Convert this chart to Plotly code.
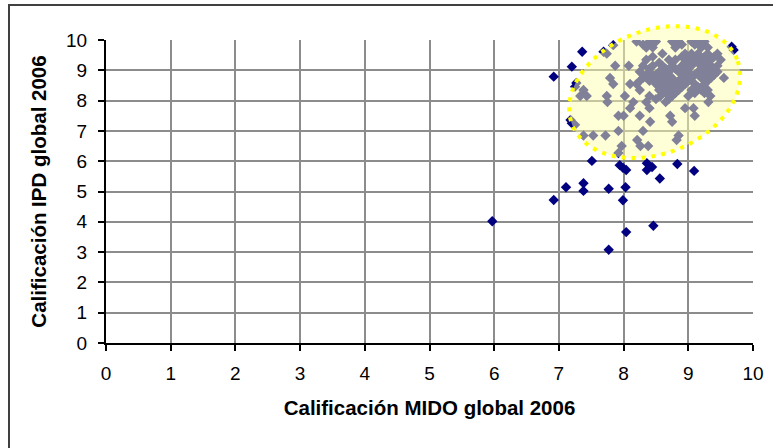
import numpy as np
import plotly.graph_objects as go

# ---- data ----
mido_outside = [5.97, 6.92, 7.11, 7.38, 7.38, 7.77, 7.77, 8.03, 7.99, 8.04, 8.46, 7.51,
                7.94, 8.04, 7.99, 8.36, 8.44, 8.36, 8.56, 8.83, 9.09,
                6.92, 7.36, 7.69, 7.84, 7.20, 7.27, 7.25, 7.18, 7.20, 9.67, 9.70]
ipd_outside = [4.02, 4.72, 5.14, 5.27, 5.02, 5.09, 3.08, 5.14, 4.71, 3.66, 3.87, 6.01,
               5.87, 5.71, 5.78, 5.93, 5.81, 5.71, 5.43, 5.91, 5.68,
               8.79, 9.61, 9.61, 9.83, 9.12, 8.58, 8.46, 7.36, 7.25, 9.78, 9.67]

rows_ipd = [9.95, 9.85, 9.75, 9.55, 9.45, 9.35, 9.25, 9.15, 9.05, 8.95, 8.85, 8.75,
            8.65, 8.55, 8.45, 8.35, 8.25, 8.15, 8.05,
            7.95, 7.75, 7.5, 7.3, 7.2, 7.0, 6.85, 6.7, 6.5, 6.27]
rows_mido = [
    [8.2, 8.4, 8.5, 8.75, 8.85, 9.05, 9.15, 9.25],
    [8.3, 8.9, 9.1],
    [8.35, 8.45, 8.8, 9.2, 9.3],
    [7.74, 8.6, 8.95, 9.05, 9.15, 9.3, 9.45],
    [8.45, 8.9, 9.25, 9.4],
    [8.35, 8.7, 8.8, 9.0, 9.1, 9.2, 9.35, 9.5],
    [8.55, 8.95, 9.15, 9.3],
    [7.87, 8.08, 8.3, 8.45, 8.6, 8.75, 8.9, 9.05, 9.2, 9.35, 9.45],
    [8.4, 8.65, 8.8, 8.95, 9.25, 9.4],
    [8.25, 8.4, 8.55, 8.7, 8.85, 9.0, 9.15, 9.3, 9.45],
    [8.35, 8.5, 8.65, 8.95, 9.1, 9.25, 9.4],
    [7.79, 8.3, 8.45, 8.6, 8.75, 8.9, 9.05, 9.2, 9.35, 9.55],
    [8.25, 8.4, 8.55, 8.7, 8.85, 9.0, 9.3],
    [7.84, 8.1, 8.2, 8.5, 8.65, 8.8, 8.95, 9.1, 9.25],
    [8.6, 8.75, 8.9, 9.15],
    [7.38, 8.25, 8.55, 8.7, 8.85, 9.05, 9.2, 9.3],
    [8.65, 8.8, 9.1, 9.25],
    [7.33, 7.43, 7.74, 8.02, 8.4, 8.57, 8.75, 9.0, 9.34],
    [8.5, 8.7],
    [7.75, 8.15, 8.35, 8.65, 9.31],
    [8.1, 8.4, 8.95, 9.08],
    [7.92, 8.0, 8.25, 8.72, 9.1],
    [8.41, 8.75],
    [7.25],
    [7.92, 8.3],
    [7.38, 7.53, 7.72, 8.85],
    [8.21, 8.82],
    [7.97, 8.26, 8.38],
    [7.92],
]
mido_inside = [x for row in rows_mido for x in row]
ipd_inside = [y for y, row in zip(rows_ipd, rows_mido) for _ in row]

mido = mido_outside + mido_inside
ipd = ipd_outside + ipd_inside

x_ticks = list(range(0, 11))
y_ticks = list(range(0, 11))

# ---- figure ----
W, H = 773, 448
L, R, T, B = 106, 20, 40, 105
pw, ph = W - L - R, H - T - B
sx, sy = pw / 10.0, ph / 10.0  # px per data unit

fig = go.Figure()
fig.add_trace(go.Scatter(
    x=mido, y=ipd, mode="markers",
    marker=dict(symbol="diamond", size=8, color="#000080", line=dict(width=0)),
    hoverinfo="x+y", showlegend=False))

# highlight ellipse (tilted); paper coords so it is not clipped by the plot area
cx, cy = 8.48, 8.28
a_px, b_px, th = 88.7, 61.6, np.deg2rad(21.7)
t = np.linspace(0, 2 * np.pi, 121)
ex = (cx + (a_px * np.cos(t) * np.cos(th) - b_px * np.sin(t) * np.sin(th)) / sx) / 10.0
ey = (cy + (a_px * np.cos(t) * np.sin(th) + b_px * np.sin(t) * np.cos(th)) / sy) / 10.0
path = "M " + " L ".join(f"{x:.5f},{y:.5f}" for x, y in zip(ex, ey)) + " Z"
fig.add_shape(type="path", path=path, xref="paper", yref="paper",
              fillcolor="rgba(255,255,175,0.5)",
              line=dict(color="#FFFF00", width=4, dash="4px,6px"), layer="above")

# outer chart border
fig.add_shape(type="rect", xref="paper", yref="paper",
              x0=(9 - L) / pw, x1=(790 - L) / pw,
              y0=(H - B - 470) / ph, y1=(H - B - 5) / ph,
              line=dict(color="#404040", width=2), fillcolor="rgba(0,0,0,0)", layer="below")

axis_common = dict(
    range=[0, 10], dtick=1, tick0=0,
    showgrid=True, gridcolor="#8c8c8c", gridwidth=2,
    showline=True, linecolor="#000000", linewidth=2,
    ticks="outside", ticklen=6, tickwidth=2, tickcolor="#000000",
    zeroline=False,
    tickfont=dict(family="Liberation Sans, Arial", size=19, color="#000000"),
    fixedrange=True,
)
title_font = dict(family="Liberation Sans, Arial", size=20.5, color="#000000")
fig.update_xaxes(**axis_common, tickvals=x_ticks, ticklabelstandoff=6,
                 title=dict(text="<b>Calificación MIDO global 2006</b>",
                            font=title_font, standoff=18))
fig.update_yaxes(**axis_common, tickvals=y_ticks, ticklabelstandoff=7,
                 title=dict(text="<b>Calificación IPD global 2006</b>",
                            font=title_font, standoff=14))

fig.update_layout(
    width=W, height=H,
    margin=dict(l=L, r=R, t=T, b=B, autoexpand=False),
    paper_bgcolor="white", plot_bgcolor="white",
    showlegend=False,
)

fig.write_html("out.html", config={"displayModeBar": False},
               post_script="document.body.style.margin='0px';")
